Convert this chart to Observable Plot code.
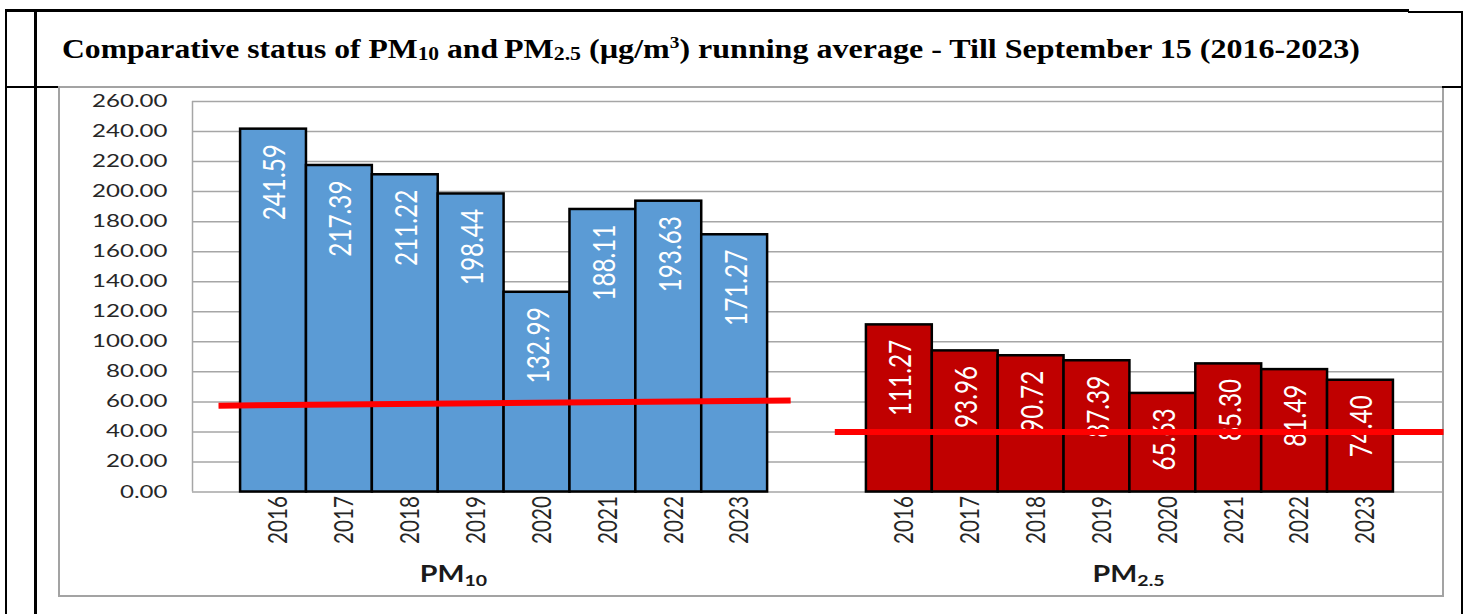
<!DOCTYPE html>
<html>
<head>
<meta charset="utf-8">
<script src="https://cdn.jsdelivr.net/npm/d3@7"></script>
<script src="https://cdn.jsdelivr.net/npm/@observablehq/plot@0.6"></script>
<style>
  html, body { margin: 0; padding: 0; background: #fff; }
  body { width: 1464px; height: 614px; position: relative; overflow: hidden; }
  .ln { position: absolute; background: #000; }
  .title { position: absolute; top: 33.5px; line-height: 30px; white-space: nowrap;
           font-family: "Liberation Serif", "Times New Roman", serif; font-weight: bold; font-size: 26.5px;
           color: #000; transform-origin: 0 50%; }
  .title .sub { font-size: 18px; position: relative; top: 2px; }
  .title .sup { font-size: 16px; position: relative; top: -10px; }
  #box { position: absolute; left: 58px; top: 86px; width: 1386px; height: 511px; box-sizing: border-box;
         border: 2px solid #a3a3a3; background: #fff; }
  #chart { position: absolute; left: 59px; top: 87px; }
</style>
</head>
<body>
<div class="ln" style="left:5px;top:86px;width:1458px;height:2px;"></div>
<div id="box"></div>
<div class="ln" style="left:5px;top:9px;width:1404px;height:3px;"></div>
<div class="ln" style="left:1408px;top:11px;width:55px;height:2px;"></div>
<div class="ln" style="left:5px;top:10px;width:2px;height:604px;"></div>
<div class="ln" style="left:34px;top:11px;width:3px;height:603px;"></div>
<div class="ln" style="left:1461px;top:11px;width:2px;height:603px;"></div>
<div class="ln" style="left:1442px;top:86px;width:21px;height:2px;"></div>
<div class="title" id="t1" style="left:62px;">Comparative status of PM<span class="sub">10</span> and</div>
<div class="title" id="t2" style="left:504px;">PM<span class="sub">2.5</span> (µg/m<span class="sup">3</span>) running average - Till September 15 (2016-2023)</div>
<div id="chart"></div>
<script>
// ---- data ----
const years = ["2016", "2017", "2018", "2019", "2020", "2021", "2022", "2023"];
const pm10 = [241.59, 217.39, 211.22, 198.44, 132.99, 188.11, 193.63, 171.27];
const pm25 = [111.27, 93.96, 90.72, 87.39, 65.63, 85.30, 81.49, 74.40];
const groups = ["PM10", "PM2.5"];
const groupColors = ["#5b9bd5", "#c00000"];
const standardStart = [57.5, 40];   // red reference line, left end
const standardEnd = [61, 40];       // red reference line, right end
const yTicks = [0, 20, 40, 60, 80, 100, 120, 140, 160, 180, 200, 220, 240, 260];

// ---- layout (in bar-width units) ----
const groupStart = [0, 9.5];
const xDomain = [-0.73, 18.26];
const lineLeft = [-0.335, 9.02];
const lineRight = [8.35, 18.26];
const labelCenter = [3.23, 13.48];

const series = [pm10, pm25];
const rows = groups.flatMap((g, gi) => years.map((yr, i) => ({
  group: g, year: yr, value: series[gi][i],
  x1: groupStart[gi] + i, x2: groupStart[gi] + i + 1
})));
const standards = groups.map((g, gi) => ({
  group: g, x1: lineLeft[gi], x2: lineRight[gi], y1: standardStart[gi], y2: standardEnd[gi]
}));
const groupLabels = groups.map((g, gi) => ({ group: g, x: labelCenter[gi] }));

const chart = Plot.plot({
  width: 1384, height: 509,
  marginLeft: 133, marginRight: 0, marginTop: 14, marginBottom: 104.5,
  style: { fontFamily: "Lato", fontSize: "17.2px", color: "#262626", background: "transparent", overflow: "visible" },
  x: { domain: xDomain, axis: null },
  y: { domain: [0, 260], ticks: yTicks, tickFormat: d => d.toFixed(2), tickSize: 0, tickPadding: 25, label: null },
  color: { domain: groups, range: groupColors },
  marks: [
    Plot.ruleY(yTicks, { stroke: "#a6a6a6", strokeWidth: 1.5 }),
    Plot.ruleX([xDomain[0]], { y1: 0, y2: 260, stroke: "#a6a6a6", strokeWidth: 1.5 }),
    Plot.rectY(rows, { x1: "x1", x2: "x2", y: "value", fill: "group", stroke: "#000", strokeWidth: 2.5 }),
    Plot.text(rows, {
      x: d => (d.x1 + d.x2) / 2, y: "value", text: d => d.value.toFixed(2),
      rotate: -90, textAnchor: "end", dy: 15, dx: 2, fill: "#ffffff", fontSize: 24.3
    }),
    Plot.text(rows, {
      x: d => (d.x1 + d.x2) / 2, y: () => 0, text: "year",
      rotate: -90, textAnchor: "end", dy: 4, dx: 5, fill: "#262626", fontSize: 20.7
    }),
    Plot.text(groupLabels, {
      x: "x", y: () => 0, text: "group", dy: 83, fill: "#1a1a1a", fontSize: 22, fontWeight: "bold", textAnchor: "middle"
    }),
    Plot.link(standards, { x1: "x1", x2: "x2", y1: "y1", y2: "y2", stroke: "#ff0000", strokeWidth: 6 })
  ]
});
document.getElementById("chart").appendChild(chart);

const svg = d3.select(chart);
// horizontal stretch of the y tick labels
svg.selectAll('[aria-label^="y-axis"] text').each(function () {
  const L = this.getComputedTextLength();
  d3.select(this).attr("textLength", L * 1.4).attr("lengthAdjust", "spacingAndGlyphs");
});

const textGroups = svg.selectAll('g[aria-label="text"]').nodes();
const [valueG, yearG, groupG] = textGroups;
function widen(g, k) {
  if (!g) return;
  d3.select(g).selectAll("text").each(function () {
    const tr = this.getAttribute("transform");
    if (tr) this.setAttribute("transform", tr + ` scale(1,${k})`);
  });
}
// widen rotated labels across their baseline
widen(valueG, 1.27);
widen(yearG, 1.33);
// subscripts for the group labels
if (groupG) d3.select(groupG).selectAll("text").each(function () {
  const t = this.textContent;
  const sel = d3.select(this);
  sel.text(null);
  sel.append("tspan").text("PM");
  sel.append("tspan").attr("dy", 4).attr("font-size", 15).text(t.slice(2));
  const L = this.getComputedTextLength();
  sel.attr("textLength", L * 1.3).attr("lengthAdjust", "spacingAndGlyphs");
});

// fit the title pieces to the reference widths
function fit(id, target) {
  const el = document.getElementById(id);
  const w = el.getBoundingClientRect().width;
  el.style.transform = `scaleX(${target / w})`;
}
fit("t1", 436);
fit("t2", 856);
</script>
</body>
</html>
